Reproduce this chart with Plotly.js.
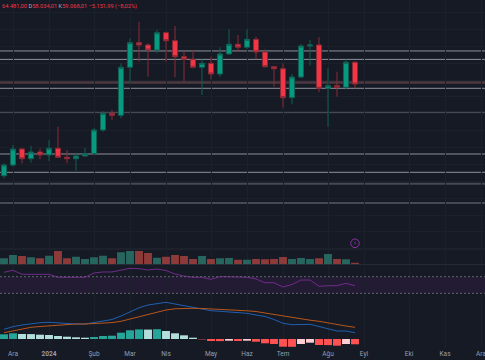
<!DOCTYPE html>
<html>
<head>
<meta charset="utf-8">
<script src="https://cdn.plot.ly/plotly-3.0.1.min.js"></script>
<style>html,body{margin:0;padding:0;background:#161a25;}#chart{width:485px;height:360px;}</style>
</head>
<body>
<div id="chart"></div>
<script>
// Weekly bars (Monday of each week)
const dates = ['2023-11-27','2023-12-04','2023-12-11','2023-12-18','2023-12-25','2024-01-01','2024-01-08','2024-01-15','2024-01-22','2024-01-29',
  '2024-02-05','2024-02-12','2024-02-19','2024-02-26','2024-03-04','2024-03-11','2024-03-18','2024-03-25','2024-04-01','2024-04-08',
  '2024-04-15','2024-04-22','2024-04-29','2024-05-06','2024-05-13','2024-05-20','2024-05-27','2024-06-03','2024-06-10','2024-06-17',
  '2024-06-24','2024-07-01','2024-07-08','2024-07-15','2024-07-22','2024-07-29','2024-08-05','2024-08-12','2024-08-19','2024-08-26'];
const open  = [37340,39870,43660,41360,42950,42240,43830,41700,41360,42000,42550,48170,52120,51650,63030,68860,68310,67130,71230,69330,
  65540,64920,63030,63970,61440,66180,68480,67770,69660,66650,63170,62690,55820,60730,68070,68310,58050,58670,58290,64220];
const high  = [40270,44610,43800,44370,43830,45800,48950,43430,42790,43900,48600,52670,52910,63970,69900,73830,68710,71870,71500,72810,
  66720,67130,64920,65540,67770,72030,70680,72030,70280,67290,63330,63970,61440,68550,69500,70140,62790,61980,64920,64481];
const low   = [36720,39470,40270,40420,41220,40820,41500,40270,38520,41880,42300,47760,50540,50940,59230,64350,60800,66340,64350,60660,
  59610,62800,56460,60180,60800,66000,66720,67360,64920,63000,58430,53450,54260,60420,63410,57100,48950,56060,57810,58034];
const close = [39870,43660,41360,42950,42240,43830,41700,41360,42000,42550,48170,52120,51650,63030,68860,68310,67130,71230,69330,65540,
  64920,63030,63970,61440,66180,68480,67770,69660,66650,63170,62690,55820,60730,68070,68310,58050,58670,58290,64220,59068];
const volume = [60,93,83,70,60,86,133,60,76,53,70,86,60,120,133,133,113,66,76,93,
  83,53,83,53,60,63,46,46,53,50,53,73,53,63,53,60,103,53,50,16];
const rsi = [80.6,85.4,75.8,75.8,75.8,75.8,68.6,68.6,68.6,68.6,79,81.4,81.4,86.2,90.2,89.3,86.2,88.5,84.9,76.5,
  71.6,68.6,68.6,63.7,70,70,70,68.6,64.6,55.5,55.5,45.2,51.2,62,62,46.9,48.3,48.3,54,48.3];
const macd = [1940,2460,2800,3060,3260,3340,3200,3060,3000,3000,3300,3600,3900,4600,5400,6240,6800,7100,7340,7000,
  6640,6340,6000,5660,5540,5400,5300,5140,4800,4500,3900,3140,2860,2900,2940,2500,2100,1600,1600,1260];
const signal = [1260,1660,2000,2340,2500,2660,2800,2940,3000,3000,3100,3160,3280,3540,4000,4500,4900,5340,5800,6040,
  6140,6140,6100,6040,5940,5840,5740,5640,5500,5200,4900,4600,4260,4000,3760,3540,3200,2860,2600,2340];
const hist = [940,1140,1000,980,860,800,600,460,340,260,400,600,660,1260,1740,1920,1880,1960,1600,1140,
  740,260,-80,-400,-420,-340,-400,-340,-540,-860,-1000,-1540,-1560,-1000,-740,-1200,-1220,-1340,-1000,-1060];
// Horizontal price levels
const levelsThin  = [66900,64900,58050,42480,38140];
const levelsThick = [52270,35440,30870];
const levelRed    = [59400];
// Axis ticks
const tickDates = ['2023-12-04','2024-01-01','2024-02-05','2024-03-04','2024-04-01','2024-05-06','2024-06-03','2024-07-01','2024-08-05','2024-09-02','2024-10-07','2024-11-04','2024-12-02'];
const tickLabels = ['Ara','<b>2024</b>','Şub','Mar','Nis','May','Haz','Tem','Ağu','Eyl','Eki','Kas','Ara'];
const eventDate = '2024-08-26';

const H = 348;
const pf = px => 1 - px / H;

const volColors = close.map((c,i) => c >= open[i] ? '#27655f' : '#8c3a3a');
const histColors = hist.map((v,i) => {
  const prev = i === 0 ? 0 : hist[i-1];
  if (v >= 0) return v > prev ? '#26a69a' : '#b2dfdb';
  return v > prev ? '#ffcdd2' : '#ff5252';
});

const traces = [
  {type:'candlestick', x:dates, open:open, high:high, low:low, close:close, xaxis:'x', yaxis:'y',
   increasing:{line:{color:'#0f6153', width:1}, fillcolor:'#089981'},
   decreasing:{line:{color:'#8a2a36', width:1}, fillcolor:'#f23645'},
   whiskerwidth:0, hoverinfo:'skip'},
  {type:'bar', x:dates, y:volume, xaxis:'x', yaxis:'y2', marker:{color:volColors, line:{width:0}}, hoverinfo:'skip'},
  {type:'scatter', mode:'lines', x:dates, y:rsi, xaxis:'x', yaxis:'y3', line:{color:'#712b8a', width:1}, hoverinfo:'skip'},
  {type:'bar', x:dates, y:hist, xaxis:'x', yaxis:'y4', marker:{color:histColors, line:{width:0}}, hoverinfo:'skip'},
  {type:'scatter', mode:'lines', x:dates, y:macd, xaxis:'x', yaxis:'y4', line:{color:'#1f5fb0', width:1}, hoverinfo:'skip'},
  {type:'scatter', mode:'lines', x:dates, y:signal, xaxis:'x', yaxis:'y4', line:{color:'#b8561c', width:1}, hoverinfo:'skip'}
];

const shapes = [];
levelsThin.forEach(v => shapes.push({type:'line', xref:'paper', x0:0, x1:1, yref:'y', y0:v, y1:v, line:{color:'#8e9199', width:1}, layer:'below'}));
levelsThick.forEach(v => shapes.push({type:'line', xref:'paper', x0:0, x1:1, yref:'y', y0:v, y1:v, line:{color:'#464953', width:2}, layer:'below'}));
levelRed.forEach(v => shapes.push({type:'line', xref:'paper', x0:0, x1:1, yref:'y', y0:v, y1:v, line:{color:'#4d393f', width:2.5}, layer:'below'}));
// volume pane lines
shapes.push({type:'line', xref:'paper', x0:0, x1:1, yref:'paper', y0:pf(249), y1:pf(249), line:{color:'#242833', width:1}, layer:'below'});
shapes.push({type:'line', xref:'paper', x0:0, x1:1, yref:'paper', y0:pf(264.5), y1:pf(264.5), line:{color:'#262a35', width:1}, layer:'below'});
// RSI band
shapes.push({type:'rect', xref:'paper', x0:0, x1:1, yref:'y3', y0:30, y1:70, fillcolor:'rgba(150,40,175,0.11)', line:{width:0}, layer:'below'});
shapes.push({type:'line', xref:'paper', x0:0, x1:1, yref:'y3', y0:70, y1:70, line:{color:'#62656f', width:1, dash:'2px,2px'}});
shapes.push({type:'line', xref:'paper', x0:0, x1:1, yref:'y3', y0:30, y1:30, line:{color:'#62656f', width:1, dash:'2px,2px'}});
// event marker
shapes.push({type:'circle', xref:'x', xsizemode:'pixel', xanchor:eventDate, x0:-4.3, x1:4.3,
  yref:'paper', ysizemode:'pixel', yanchor:pf(243.3), y0:-4.3, y1:4.3, line:{color:'#8e2fa6', width:1}});

const layout = {
  width:485, height:360,
  margin:{l:0, r:0, t:0, b:12, pad:0},
  paper_bgcolor:'#161a25', plot_bgcolor:'#161a25',
  showlegend:false, bargap:0.12, boxgap:0.2,
  font:{family:'Roboto, sans-serif', color:'#9598a1'},
  xaxis:{type:'date', range:['2023-11-23 21:20','2024-12-05 02:40'], anchor:'y4',
    tickvals:tickDates, ticktext:tickLabels, tickfont:{size:6.5, color:'#9a9da6'}, ticks:'',
    ticklabeloverflow:'allow',
    showgrid:true, gridcolor:'#1c202b', gridwidth:1, zeroline:false, showline:false,
    rangeslider:{visible:false}, automargin:false, fixedrange:true},
  yaxis:{domain:[pf(240),1], range:[22096,78976], showticklabels:false, showgrid:true, gridcolor:'#1c202b',
    tick0:0, dtick:4000, zeroline:false, anchor:'x', fixedrange:true},
  yaxis2:{domain:[pf(264.3),pf(240)], range:[0,243], showticklabels:false, showgrid:false, zeroline:false, anchor:'x'},
  yaxis3:{domain:[pf(297),pf(266)], range:[21.1,95.8], showticklabels:false, showgrid:false, zeroline:false, anchor:'x'},
  yaxis4:{domain:[0,pf(298)], range:[-1800,8200], showticklabels:false, showgrid:false, zeroline:false, anchor:'x'},
  shapes:shapes,
  annotations:[
    {xref:'paper', yref:'paper', x:0, y:pf(7), xanchor:'left', yanchor:'middle', showarrow:false,
     font:{size:5.7, color:'#f23645', family:'Roboto, sans-serif'},
     text:'64.481,00 <span style="color:#b2b5be">D</span>58.034,01 <span style="color:#b2b5be">K</span>59.068,01 −5.151,99 (−8,02%)'},
    {xref:'x', yref:'paper', x:eventDate, y:pf(243.3), xanchor:'center', yanchor:'middle', showarrow:false,
     font:{size:5.5, color:'#9c3ab5', family:'DejaVu Sans'}, text:'⚡'}
  ]
};

Plotly.newPlot('chart', traces, layout, {displayModeBar:false, staticPlot:true});
</script>
</body>
</html>
